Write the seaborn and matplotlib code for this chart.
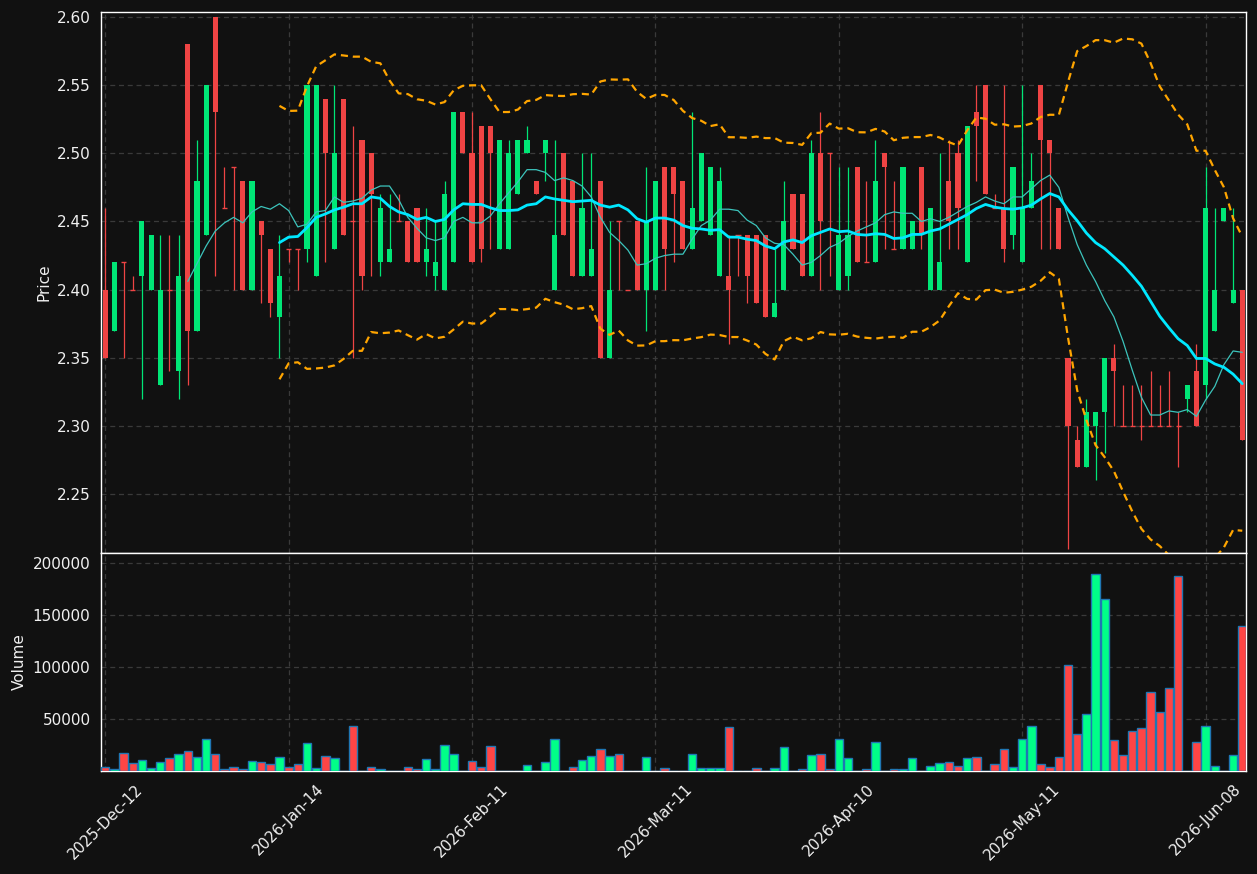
import numpy as np
import pandas as pd
import matplotlib
matplotlib.use("Agg")
import matplotlib.pyplot as plt
import seaborn as sns

# ---------------- data ----------------
opens = [2.40, 2.37, 2.42, 2.40, 2.41, 2.40, 2.33, 2.40, 2.34, 2.58,
         2.37, 2.44, 2.60, 2.46, 2.49, 2.48, 2.40, 2.45, 2.43, 2.38,
         2.43, 2.43, 2.43, 2.41, 2.54, 2.43, 2.54, 2.45, 2.51, 2.50,
         2.42, 2.42, 2.45, 2.45, 2.46, 2.42, 2.41, 2.40, 2.42, 2.53,
         2.50, 2.52, 2.52, 2.43, 2.43, 2.47, 2.50, 2.48, 2.50, 2.40,
         2.50, 2.48, 2.41, 2.41, 2.48, 2.35, 2.45, 2.40, 2.45, 2.40,
         2.40, 2.49, 2.49, 2.48, 2.43, 2.45, 2.44, 2.41, 2.41, 2.44,
         2.44, 2.44, 2.44, 2.38, 2.40, 2.47, 2.47, 2.41, 2.50, 2.50,
         2.40, 2.41, 2.49, 2.42, 2.42, 2.50, 2.43, 2.43, 2.43, 2.49,
         2.40, 2.40, 2.48, 2.50, 2.42, 2.53, 2.55, 2.46, 2.46, 2.44,
         2.42, 2.46, 2.55, 2.51, 2.46, 2.35, 2.29, 2.27, 2.30, 2.31,
         2.35, 2.30, 2.30, 2.30, 2.30, 2.30, 2.30, 2.30, 2.32, 2.34,
         2.33, 2.37, 2.45, 2.39, 2.40]
highs = [2.46, 2.42, 2.42, 2.41, 2.45, 2.44, 2.44, 2.44, 2.44, 2.58,
         2.51, 2.55, 2.60, 2.49, 2.49, 2.48, 2.48, 2.45, 2.43, 2.44,
         2.43, 2.43, 2.55, 2.55, 2.54, 2.55, 2.54, 2.52, 2.51, 2.50,
         2.47, 2.47, 2.47, 2.45, 2.46, 2.46, 2.45, 2.48, 2.53, 2.53,
         2.53, 2.52, 2.52, 2.51, 2.51, 2.51, 2.52, 2.48, 2.51, 2.51,
         2.50, 2.48, 2.50, 2.50, 2.48, 2.45, 2.45, 2.40, 2.45, 2.49,
         2.48, 2.49, 2.49, 2.48, 2.53, 2.50, 2.49, 2.49, 2.44, 2.44,
         2.44, 2.44, 2.44, 2.43, 2.48, 2.47, 2.47, 2.51, 2.53, 2.50,
         2.49, 2.49, 2.49, 2.48, 2.51, 2.50, 2.48, 2.49, 2.45, 2.49,
         2.46, 2.50, 2.51, 2.51, 2.52, 2.55, 2.55, 2.47, 2.55, 2.49,
         2.55, 2.50, 2.55, 2.51, 2.46, 2.35, 2.30, 2.32, 2.31, 2.35,
         2.36, 2.33, 2.33, 2.33, 2.34, 2.33, 2.34, 2.31, 2.33, 2.36,
         2.49, 2.46, 2.46, 2.46, 2.40]
lows = [2.35, 2.37, 2.35, 2.40, 2.32, 2.40, 2.33, 2.34, 2.32, 2.33,
        2.37, 2.44, 2.41, 2.46, 2.40, 2.40, 2.40, 2.39, 2.38, 2.35,
        2.42, 2.40, 2.42, 2.41, 2.42, 2.43, 2.44, 2.35, 2.40, 2.41,
        2.41, 2.42, 2.45, 2.42, 2.42, 2.41, 2.40, 2.40, 2.42, 2.50,
        2.42, 2.42, 2.43, 2.43, 2.43, 2.47, 2.50, 2.47, 2.48, 2.40,
        2.44, 2.41, 2.41, 2.41, 2.35, 2.35, 2.40, 2.40, 2.40, 2.37,
        2.40, 2.40, 2.42, 2.43, 2.43, 2.45, 2.44, 2.41, 2.36, 2.41,
        2.39, 2.39, 2.38, 2.38, 2.40, 2.43, 2.41, 2.41, 2.40, 2.41,
        2.40, 2.40, 2.42, 2.42, 2.42, 2.43, 2.43, 2.43, 2.43, 2.43,
        2.40, 2.40, 2.43, 2.43, 2.42, 2.48, 2.47, 2.46, 2.42, 2.43,
        2.42, 2.46, 2.43, 2.43, 2.43, 2.21, 2.27, 2.27, 2.26, 2.28,
        2.30, 2.30, 2.30, 2.29, 2.30, 2.30, 2.30, 2.27, 2.31, 2.30,
        2.32, 2.37, 2.45, 2.39, 2.29]
closes = [2.35, 2.42, 2.42, 2.40, 2.45, 2.44, 2.40, 2.40, 2.41, 2.37,
          2.48, 2.55, 2.53, 2.46, 2.49, 2.40, 2.48, 2.44, 2.39, 2.41,
          2.43, 2.43, 2.55, 2.55, 2.50, 2.50, 2.44, 2.45, 2.41, 2.47,
          2.46, 2.43, 2.45, 2.42, 2.42, 2.43, 2.42, 2.47, 2.53, 2.50,
          2.42, 2.43, 2.50, 2.51, 2.50, 2.51, 2.51, 2.47, 2.51, 2.44,
          2.44, 2.41, 2.46, 2.43, 2.35, 2.40, 2.45, 2.40, 2.40, 2.45,
          2.48, 2.43, 2.47, 2.43, 2.46, 2.50, 2.49, 2.48, 2.40, 2.44,
          2.41, 2.39, 2.38, 2.39, 2.45, 2.43, 2.41, 2.50, 2.45, 2.50,
          2.44, 2.44, 2.42, 2.42, 2.48, 2.49, 2.43, 2.49, 2.45, 2.44,
          2.46, 2.42, 2.45, 2.46, 2.52, 2.52, 2.47, 2.46, 2.43, 2.49,
          2.46, 2.48, 2.51, 2.50, 2.43, 2.30, 2.27, 2.31, 2.31, 2.35,
          2.34, 2.30, 2.30, 2.30, 2.30, 2.30, 2.30, 2.30, 2.33, 2.30,
          2.46, 2.40, 2.46, 2.40, 2.29]
volumes = [3500, 2200, 17000, 7400, 10300, 3200, 8300, 12200, 16000, 18900,
           13100, 30400, 16000, 1600, 4200, 1600, 9300, 8300, 6400, 13100,
           3500, 6400, 26600, 2600, 14100, 12200, 500, 42900, 0, 4200,
           2200, 500, 500, 4200, 1600, 11200, 1600, 24700, 16000, 0,
           9300, 4200, 23700, 500, 500, 500, 5400, 0, 8300, 30400,
           500, 4200, 10300, 14100, 20800, 14100, 16000, 500, 0, 13100,
           500, 2600, 500, 500, 16000, 2600, 2600, 2600, 42000, 500,
           500, 2600, 500, 2600, 22800, 0, 1600, 15100, 16000, 1600,
           30400, 12200, 0, 1600, 27600, 500, 1600, 1600, 12200, 500,
           4500, 7400, 8300, 4500, 12200, 13100, 500, 6400, 20800, 3500,
           30400, 42900, 6400, 3500, 13100, 101600, 35300, 54500, 189100, 165100,
           29500, 15100, 38100, 41000, 75600, 56400, 79500, 187200, 0, 27600,
           42900, 4500, 500, 15100, 139100]
tick_labels = ["2025-Dec-12", "2026-Jan-14", "2026-Feb-11", "2026-Mar-11",
               "2026-Apr-10", "2026-May-11", "2026-Jun-08"]
tick_every = 20

# ---------------- style ----------------
BG = "#111111"
UP, DOWN = "#00e676", "#ef4444"
VUP, VDOWN = "#00ff88", "#ff4545"
GRID = "#3a3a3a"
TXT = "#f0f0f0"

sns.set_theme(style="dark")
plt.rcParams["font.family"] = ["DejaVu Sans"]
plt.rcParams.update({
    "axes.facecolor": BG, "figure.facecolor": BG,
    "axes.edgecolor": "white", "text.color": TXT,
    "xtick.color": "white", "ytick.color": "white",
    "xtick.labelcolor": TXT, "ytick.labelcolor": TXT,
    "axes.labelcolor": TXT,
})

n = len(closes)
df = pd.DataFrame({"i": np.arange(n), "open": opens, "high": highs,
                   "low": lows, "close": closes, "volume": volumes})
df["dir"] = np.where(df["close"] > df["open"], "up", "down")
df["ma10"] = df["close"].rolling(10).mean()
df["ma20"] = df["close"].rolling(20).mean()
sd = df["close"].rolling(20).std(ddof=0)
df["upper"] = df["ma20"] + 2 * sd
df["lower"] = df["ma20"] - 2 * sd

fig = plt.figure(figsize=(12.57, 8.74), dpi=100)
ax = fig.add_axes([0.0803, 0.3673, 0.9109, 0.6195])
axv = fig.add_axes([0.0803, 0.1178, 0.9109, 0.2495])

# ---------------- candles ----------------
cols = np.where(df["dir"] == "up", UP, DOWN)
ax.vlines(df["i"], df["low"], df["high"], colors=cols, linewidth=0.9, zorder=3)
body_lo = np.minimum(df["open"], df["close"])
body_h = np.abs(df["close"] - df["open"])
bw = 0.56
ax.bar(df["i"], body_h, bottom=body_lo, width=bw, color=cols, linewidth=0, zorder=4)
doji = body_h < 1e-9
ax.hlines(df.loc[doji, "close"], df.loc[doji, "i"] - bw / 2, df.loc[doji, "i"] + bw / 2,
          colors=cols[doji.values], linewidth=1.0, zorder=4)

# ---------------- indicator lines ----------------
sns.lineplot(data=df, x="i", y="ma10", ax=ax, color="#3cc4bc", linewidth=0.9, zorder=5)
sns.lineplot(data=df, x="i", y="ma20", ax=ax, color="#00e8ff", linewidth=2.0, zorder=6)
for col in ["upper", "lower"]:
    sns.lineplot(data=df, x="i", y=col, ax=ax, color="#ffa500", linewidth=1.6,
                 linestyle=(0, (3.2, 2.2)), zorder=5)

# ---------------- volume ----------------
sns.barplot(data=df, x="i", y="volume", hue="dir", palette={"up": VUP, "down": VDOWN},
            dodge=False, width=0.92, edgecolor="#1f77b4", linewidth=1.0, saturation=1,
            errorbar=None, legend=False, ax=axv, zorder=3)

# ---------------- axes formatting ----------------
xlim = (-0.47, n - 1 + 0.4)
ticks = np.arange(0, n, tick_every)[:len(tick_labels)]
for a in (ax, axv):
    a.set_xlim(*xlim)
    a.set_facecolor(BG)
    a.set_xticks(ticks)
    a.grid(True, axis="both", linestyle=(0, (4, 3)), color=GRID, linewidth=0.9, zorder=0)
    a.set_axisbelow(True)
    for s in a.spines.values():
        s.set_color("white")
        s.set_linewidth(1.0)
    a.tick_params(axis="both", direction="out", length=4, width=1, labelsize=11)

ax.set_ylim(2.2068, 2.6040)
ax.set_yticks([2.25, 2.30, 2.35, 2.40, 2.45, 2.50, 2.55, 2.60])
ax.yaxis.set_major_formatter(matplotlib.ticker.FormatStrFormatter("%.2f"))
ax.tick_params(axis="x", labelbottom=False, length=0)
ax.set_xlabel("")
ax.set_ylabel("Price", fontsize=11)

axv.set_ylim(0, 209600)
axv.set_yticks([50000, 100000, 150000, 200000])
axv.set_yticklabels(["50000", "100000", "150000", "200000"])
axv.set_xticklabels(tick_labels, rotation=45, ha="center")
axv.set_xlabel("")
axv.set_ylabel("Volume", fontsize=11)

fig.savefig("out.png", dpi=100, facecolor=BG)
